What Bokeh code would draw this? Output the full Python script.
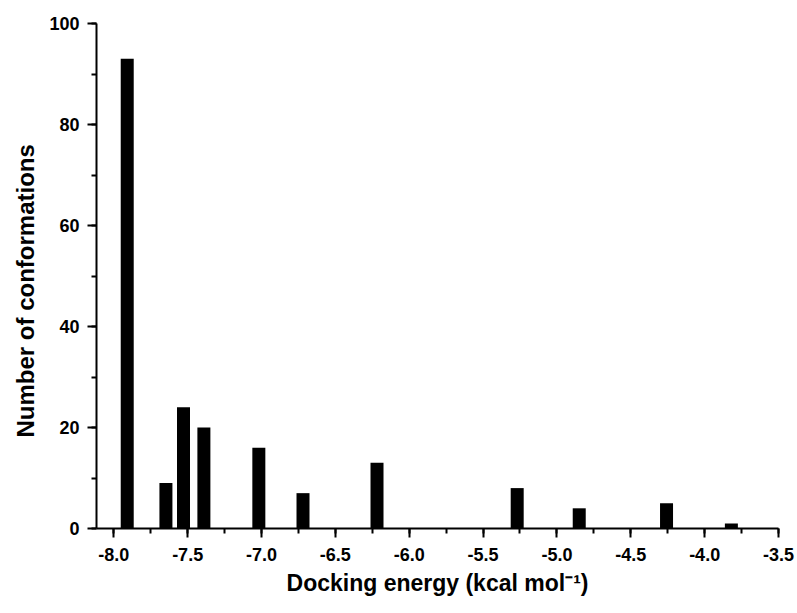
from bokeh.plotting import figure
from bokeh.models import Range1d, SingleIntervalTicker, ColumnDataSource, PrintfTickFormatter, Title
from bokeh.embed import file_html
from bokeh.resources import INLINE

# Data
energy = [-7.909, -7.647, -7.528, -7.390, -7.018, -6.719, -6.218, -5.269, -4.849, -4.258, -3.819]
counts = [93, 9, 24, 20, 16, 7, 13, 8, 4, 5, 1]
bar_width = 0.088

x_label = "Docking energy (kcal mol\u207b\u00b9)"
y_label = "Number of conformations"

src = ColumnDataSource(dict(x=energy, top=counts))

p = figure(width=797, height=613, output_backend="svg", toolbar_location=None,
           x_range=Range1d(-8.117, -3.5), y_range=Range1d(0, 100),
           min_border_left=96, min_border_right=19, min_border_top=23, min_border_bottom=85)
p.outline_line_color = None
p.grid.visible = False
p.background_fill_color = "white"
p.border_fill_color = "white"

p.vbar(x="x", top="top", width=bar_width, bottom=0, source=src,
       fill_color="black", line_color=None)

FONT = "Liberation Sans"
for ax in (p.xaxis[0], p.yaxis[0]):
    ax.axis_line_width = 2
    ax.axis_line_color = "black"
    ax.major_tick_line_width = 2
    ax.minor_tick_line_width = 2
    ax.major_tick_line_color = "black"
    ax.minor_tick_line_color = "black"
    ax.major_tick_out = 9
    ax.major_tick_in = 0
    ax.minor_tick_out = 5
    ax.minor_tick_in = 0
    ax.major_label_text_font = FONT
    ax.major_label_text_font_style = "bold"
    ax.major_label_text_font_size = "18px"
    ax.major_label_text_color = "black"
    ax.axis_label_text_font = FONT
    ax.axis_label_text_font_style = "bold"
    ax.axis_label_text_color = "black"

p.xaxis.axis_label_text_font_size = "23px"
p.xaxis.ticker = SingleIntervalTicker(interval=0.5, num_minor_ticks=2)
p.yaxis.ticker = SingleIntervalTicker(interval=20, num_minor_ticks=2)
p.xaxis.formatter = PrintfTickFormatter(format="%.1f")
p.yaxis.formatter = PrintfTickFormatter(format="%d")
p.xaxis.axis_label = x_label
p.xaxis.major_label_standoff = 10
p.yaxis.major_label_standoff = 8
p.xaxis.axis_label_standoff = 6

# y-axis title as a side title (lets it sit slightly below the frame centre, as in the reference)
p.add_layout(Title(text=y_label, align="left", offset=91, standoff=16,
                   text_font=FONT, text_font_style="bold", text_font_size="24px",
                   text_color="black"), "left")

open("out.html", "w").write(file_html(p, INLINE))
